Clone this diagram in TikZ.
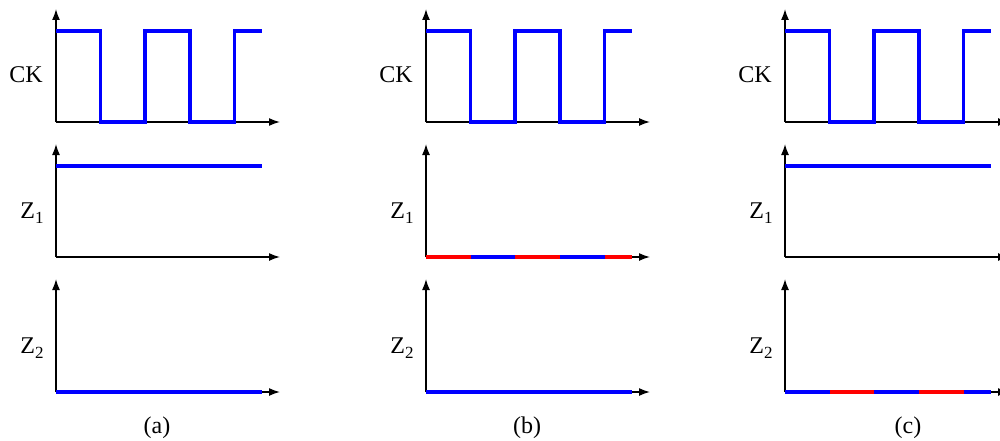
\documentclass[tikz,border=0pt]{standalone}
\usepackage{fontspec}
\setmainfont{Liberation Serif}
\usetikzlibrary{arrows.meta}
\begin{document}
\begin{tikzpicture}[x=1pt,y=-1pt,
  axis/.style={line width=1.5pt,black,-{Latex[length=11pt,width=8pt]}},
  sigb/.style={line width=3.3pt,blue},
  sigr/.style={line width=3.3pt,red},
  lbl/.style={font=\fontsize{24}{28}\selectfont,inner sep=0pt,anchor=base},
  capt/.style={font=\fontsize{24}{28}\selectfont,inner sep=0pt}]
\useasboundingbox (0,0) rectangle (1000,441);
\newcommand{\subz}[1]{Z\raisebox{-5pt}{\fontsize{17}{17}\selectfont #1}}
% ---------- one column ----------
\newcommand{\plotaxes}[1]{%
  \coordinate (#1o) at (0,0);
  \coordinate (#1y) at (0,-113);
  \coordinate (#1x) at (224,0);
  \draw[axis] (#1o) -- (#1y);
  \draw[axis] (#1o) -- (#1x);}
\newcommand{\clock}{%
  \draw[sigb] (0,-91) -- (44.5,-91) -- (44.5,0) -- (89,0) -- (89,-91) -- (134,-91)
    -- (134,0) -- (178.5,0) -- (178.5,-91) -- (206,-91);}
\newcommand{\high}{\draw[sigb] (0,-91) -- (206,-91);}
\newcommand{\lowb}{\draw[sigb] (0,0) -- (206,0);}
\newcommand{\lowrb}{%
  \draw[sigr] (0,0) -- (44.5,0);
  \draw[sigb] (44.5,0) -- (89,0);
  \draw[sigr] (89,0) -- (134,0);
  \draw[sigb] (134,0) -- (178.5,0);
  \draw[sigr] (178.5,0) -- (206,0);}
\newcommand{\lowbr}{%
  \draw[sigb] (0,0) -- (44.5,0);
  \draw[sigr] (44.5,0) -- (89,0);
  \draw[sigb] (89,0) -- (134,0);
  \draw[sigr] (134,0) -- (178.5,0);
  \draw[sigb] (178.5,0) -- (206,0);}
% ---------- column (a) ----------
\begin{scope}[shift={(56,122)}]
  \plotaxes{a1} \clock
  \node[lbl] (ack) at (-30,-39) {CK};
\end{scope}
\begin{scope}[shift={(56,257)}]
  \plotaxes{a2} \high
  \node[lbl] (az1) at (-24,-39) {\subz{1}};
\end{scope}
\begin{scope}[shift={(56,392)}]
  \plotaxes{a3} \lowb
  \node[lbl] (az2) at (-24,-39) {\subz{2}};
\end{scope}
\node[capt] (capa) at (157,428) {(a)};
% ---------- column (b) ----------
\begin{scope}[shift={(426,122)}]
  \plotaxes{b1} \clock
  \node[lbl] (bck) at (-30,-39) {CK};
\end{scope}
\begin{scope}[shift={(426,257)}]
  \plotaxes{b2} \lowrb
  \node[lbl] (bz1) at (-24,-39) {\subz{1}};
\end{scope}
\begin{scope}[shift={(426,392)}]
  \plotaxes{b3} \lowb
  \node[lbl] (bz2) at (-24,-39) {\subz{2}};
\end{scope}
\node[capt] (capb) at (527,428) {(b)};
% ---------- column (c) ----------
\begin{scope}[shift={(785,122)}]
  \plotaxes{c1} \clock
  \node[lbl] (cck) at (-30,-39) {CK};
\end{scope}
\begin{scope}[shift={(785,257)}]
  \plotaxes{c2} \high
  \node[lbl] (cz1) at (-24,-39) {\subz{1}};
\end{scope}
\begin{scope}[shift={(785,392)}]
  \plotaxes{c3} \lowbr
  \node[lbl] (cz2) at (-24,-39) {\subz{2}};
\end{scope}
\node[capt] (capc) at (908,428) {(c)};
\end{tikzpicture}
\end{document}
